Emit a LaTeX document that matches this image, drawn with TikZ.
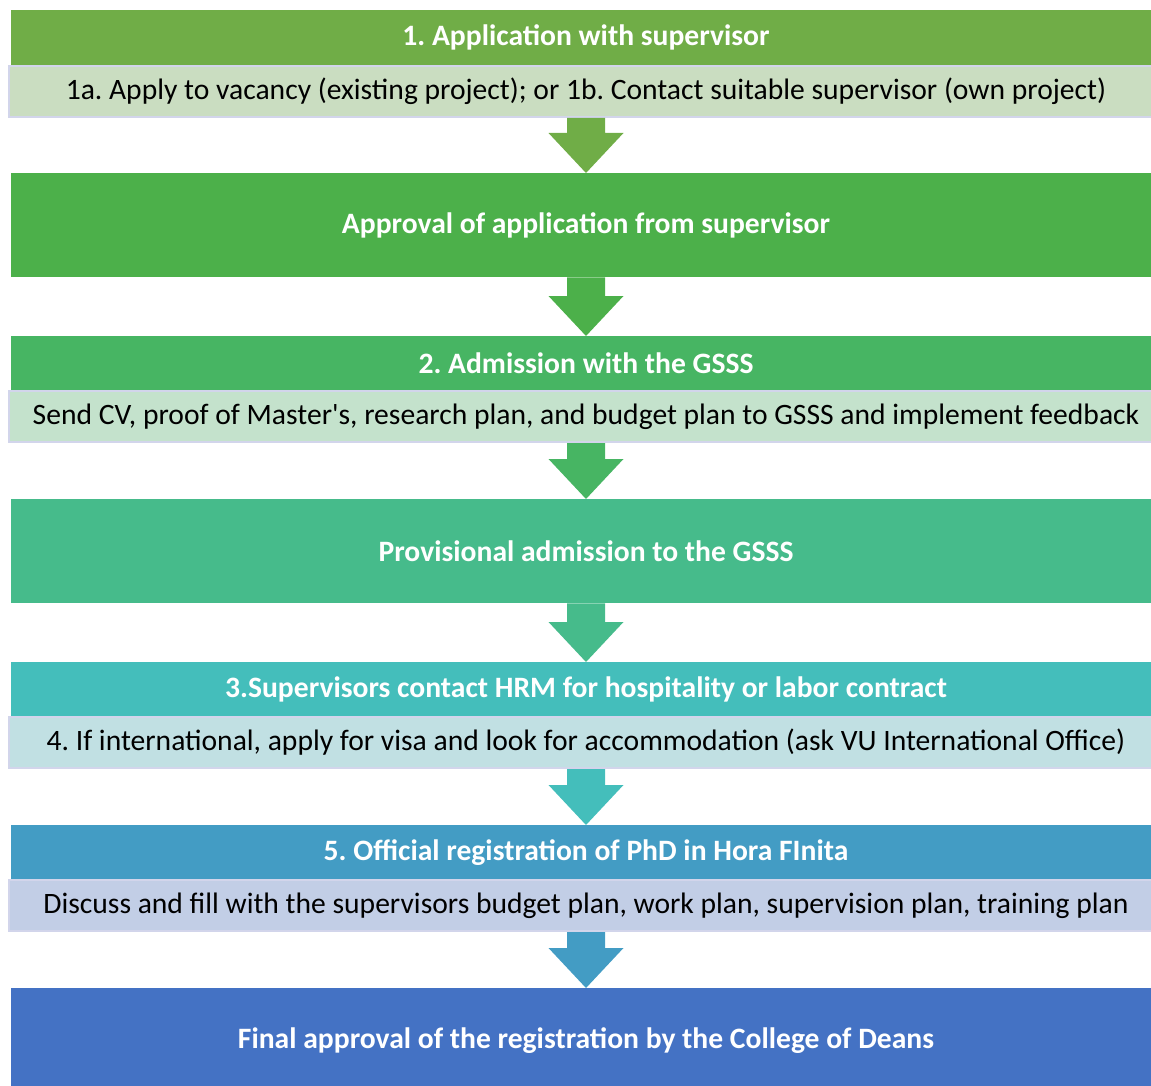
\documentclass[tikz,border=0pt]{standalone}
\usepackage{fontspec}
\setmainfont{Carlito}[Ligatures=TeXOff]
\usetikzlibrary{calc}
\frenchspacing
\definecolor{c1}{HTML}{70AD47}
\definecolor{c2}{HTML}{4CB04A}
\definecolor{c3}{HTML}{47B563}
\definecolor{c4}{HTML}{46BB8B}
\definecolor{c5}{HTML}{44BEBB}
\definecolor{c6}{HTML}{439CC4}
\definecolor{c7}{HTML}{4472C4}
\definecolor{l1}{HTML}{CADDC1}
\definecolor{l3}{HTML}{C4E2CC}
\definecolor{l5}{HTML}{C1E0E3}
\definecolor{l6}{HTML}{C2CEE6}
\definecolor{edge}{HTML}{D2D5EB}
\newcommand\blockarrow[3]{%
  \fill[#3] ($(#1.south)+(-19,0)$) -- ($(#1.south)+(19,0)$) -- ($(#2.north)+(19,-40)$)
    -- ($(#2.north)+(37.5,-40)$) -- (#2.north) -- ($(#2.north)+(-37.5,-40)$)
    -- ($(#2.north)+(-19,-40)$) -- cycle;}
\begin{document}
\begin{tikzpicture}[x=1pt,y=-1pt,
  hdr/.style={fill=#1, minimum width=1150pt, minimum height=55pt, inner sep=0pt,
    text=white, font=\fontsize{29.6}{33}\selectfont\bfseries, anchor=north},
  big/.style={hdr=#1, minimum height=104pt},
  sub/.style={fill=#1, draw=edge, line width=2pt, minimum width=1154pt, minimum height=51pt,
    inner sep=0pt, text=black, font=\fontsize{29.6}{33}\selectfont, anchor=north}]
\useasboundingbox (0,0) rectangle (1151,1086);
\clip (0,0) rectangle (1151,1086);
\node[hdr=c1] (h1) at (586,10) {1. Application with supervisor};
\node[sub=l1] (s1) at (586,65) {1a. Apply to vacancy (existing project); or 1b. Contact suitable supervisor (own project)};
\node[big=c2] (b2) at (586,173) {Approval of application from supervisor};
\node[hdr=c3] (h3) at (586,336) {2. Admission with the GSSS};
\node[sub=l3] (s3) at (586,390) {Send CV, proof of Master's, research plan, and budget plan to GSSS and implement feedback};
\node[big=c4] (b4) at (586,499) {Provisional admission to the GSSS};
\node[hdr=c5] (h5) at (586,662) {3.Supervisors contact HRM for hospitality or labor contract};
\node[sub=l5] (s5) at (586,716) {4. If international, apply for visa and look for accommodation (ask VU International Office)};
\node[hdr=c6] (h6) at (586,825) {5. Official registration of PhD in Hora FInita};
\node[sub=l6] (s6) at (586,879) {Discuss and fill with the supervisors budget plan, work plan, supervision plan, training plan};
\node[big=c7] (b7) at (586,988) {Final approval of the registration by the College of Deans};
\blockarrow{s1}{b2}{c1}
\blockarrow{b2}{h3}{c2}
\blockarrow{s3}{b4}{c3}
\blockarrow{b4}{h5}{c4}
\blockarrow{s5}{h6}{c5}
\blockarrow{s6}{b7}{c6}
\end{tikzpicture}
\end{document}
